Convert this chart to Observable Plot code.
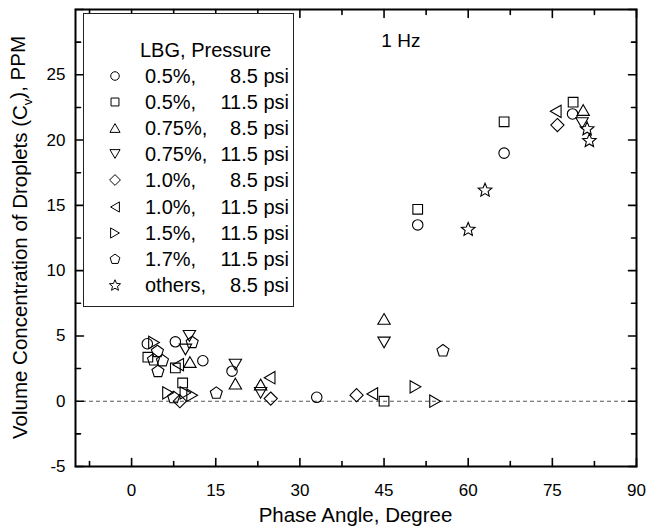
<!DOCTYPE html>
<html><head><meta charset="utf-8">
<script src="https://cdn.jsdelivr.net/npm/d3@7"></script>
<script src="https://cdn.jsdelivr.net/npm/@observablehq/plot@0.6"></script>
<style>
body{margin:0;background:#fff;}
#wrap{position:relative;width:646px;height:528px;font-family:Arial,"Liberation Sans",sans-serif;}
#legend{position:absolute;left:83px;top:13px;width:211px;height:294px;box-sizing:border-box;border:1px solid #222;background:#fff;}
.row{position:absolute;left:0;width:100%;height:26px;line-height:26px;font-size:20px;color:#000;white-space:nowrap;}
.row span{position:absolute;}
.row svg{position:absolute;top:5px;}
</style></head><body><div id="wrap"></div>
<script>
// ---------- data ----------
const xMajor = [0, 15, 30, 45, 60, 75, 90];
const xMinor = [-7.5, 7.5, 22.5, 37.5, 52.5, 67.5, 82.5];
const yMajor = [-5, 0, 5, 10, 15, 20, 25, 30];
const yMinor = [-2.5, 2.5, 7.5, 12.5, 17.5, 22.5, 27.5];
const yTickLabels = [-5, 0, 5, 10, 15, 20, 25];

const legendTitle = "LBG, Pressure";
const legendLBG = ["0.5%,", "0.5%,", "0.75%,", "0.75%,", "1.0%,", "1.0%,", "1.5%,", "1.7%,", "others,"];
const legendPressure = ["8.5 psi", "11.5 psi", "8.5 psi", "11.5 psi", "8.5 psi", "11.5 psi", "11.5 psi", "11.5 psi", "8.5 psi"];

// [phase angle (deg), Cv (PPM)]
const lbg05_85 = [[2.8,4.4],[7.8,4.55],[12.7,3.1],[17.9,2.3],[33,0.3],[51,13.5],[66.4,19.0],[78.6,22.0]];
const lbg05_115 = [[2.9,3.37],[7.8,2.55],[9.1,1.4],[45,0.0],[51,14.7],[66.4,21.4],[78.7,22.9]];
const lbg075_85 = [[10.4,3.0],[18.5,1.35],[23,1.28],[45,6.3],[80.5,22.3]];
const lbg075_115 = [[10.3,5.0],[9.6,3.96],[18.5,2.8],[23,0.64],[45,4.5],[80.3,21.3]];
const lbg10_85 = [[8.6,0.0],[24.8,0.2],[40.1,0.46],[75.9,21.15]];
const lbg10_115 = [[8.3,2.8],[24.6,1.8],[42.9,0.56],[75.6,22.2]];
const lbg15_115 = [[4.0,4.5],[6.5,0.64],[9.6,0.64],[10.8,0.46],[50.6,1.1],[54.1,0.0]];
const lbg17_115 = [[4.6,3.83],[3.9,3.19],[5.5,3.12],[4.7,2.3],[10.8,4.52],[7.5,0.3],[15.1,0.64],[55.5,3.88]];
const others_85 = [[60.0,13.2],[63.0,16.2],[81.2,20.9],[81.6,20.0]];

const hzLabel = [{label: "1 Hz", x: 48, y: 27.6}];

// ---------- symbols ----------
function poly(ctx, pts){ ctx.moveTo(pts[0][0], pts[0][1]); for (let i = 1; i < pts.length; i++) ctx.lineTo(pts[i][0], pts[i][1]); ctx.closePath(); }
function regular(n, R, rot, shift){ return d3.range(n).map(i => { const a = rot + 2*Math.PI*i/n; return [R*Math.sin(a) + shift[0], -R*Math.cos(a) + shift[1]]; }); }
const rad = size => Math.sqrt(size/Math.PI);
const symCircle = {draw(ctx, size){ const r = rad(size)*0.95; ctx.moveTo(r,0); ctx.arc(0,0,r,0,2*Math.PI); }};
const symSquare = {draw(ctx, size){ const s = rad(size)*0.88; ctx.rect(-s,-s,2*s,2*s); }};
const tri = rot => ({draw(ctx, size){ const R = rad(size)*1.3; const sh = [-(R/4)*Math.sin(rot), (R/4)*Math.cos(rot)]; poly(ctx, regular(3, R, rot, sh)); }});
const symTriUp = tri(0), symTriDown = tri(Math.PI), symTriLeft = tri(-Math.PI/2), symTriRight = tri(Math.PI/2);
const symDiamond = {draw(ctx, size){ const R = rad(size)*1.2; poly(ctx, [[0,-R],[R,0],[0,R],[-R,0]]); }};
const symPentagon = {draw(ctx, size){ const R = rad(size)*1.15; poly(ctx, regular(5, R, 0, [0, 0.05*R])); }};
const symStar = {draw(ctx, size){ const R = rad(size)*1.3, r = R*0.45; const pts = d3.range(10).map(i => { const a = Math.PI*i/5; const q = i % 2 ? r : R; return [q*Math.sin(a), -q*Math.cos(a) + 0.1*R]; }); poly(ctx, pts); }};

const seriesData = [lbg05_85, lbg05_115, lbg075_85, lbg075_115, lbg10_85, lbg10_115, lbg15_115, lbg17_115, others_85];
const seriesSymbols = [symCircle, symSquare, symTriUp, symTriDown, symDiamond, symTriLeft, symTriRight, symPentagon, symStar];

const tickShape = {draw(ctx, l){ ctx.moveTo(0,0); ctx.lineTo(0,-l); }};
const tickMarks = (vals, k, anchor, rot, len) => Plot.vector(vals, {[k]: d => d, frameAnchor: anchor, rotate: rot, length: len, anchor: "start", shape: tickShape, stroke: "black", strokeWidth: 1.6});

const W = 646, H = 528, ML = 75, MR = 10, MT = 9, MB = 62;

const plot = Plot.plot({
  width: W, height: H,
  marginLeft: ML, marginRight: MR, marginTop: MT, marginBottom: MB,
  style: {fontFamily: "Arial, 'Liberation Sans', sans-serif", background: "white", color: "black"},
  x: {domain: [-10, 90]},
  y: {domain: [-5, 30]},
  marks: [
    Plot.ruleY([0], {stroke: "#555", strokeDasharray: "4,3", strokeWidth: 1.1}),
    ...seriesData.map((d, i) => Plot.dot(d, {x: p => p[0], y: p => p[1], symbol: seriesSymbols[i], r: 5.5, stroke: "black", strokeWidth: 1.1, fill: "none"})),
    Plot.text(hzLabel, {x: "x", y: "y", text: "label", fontSize: 19, fill: "black"}),
    Plot.axisX(xMajor, {tickSize: 0, tickPadding: 17, fontSize: 17, label: null, tickFormat: d => String(d)}),
    Plot.axisY(yTickLabels, {tickSize: 0, tickPadding: 10, fontSize: 17, label: null, tickFormat: d => String(d)}),
    tickMarks(xMajor, "x", "bottom", 0, 8),
    tickMarks(xMinor, "x", "bottom", 0, 5),
    tickMarks(xMajor, "x", "top", 180, 8),
    tickMarks(xMinor, "x", "top", 180, 5),
    tickMarks(yMajor, "y", "left", 90, 8),
    tickMarks(yMinor, "y", "left", 90, 5),
    tickMarks(yMajor, "y", "right", -90, 8),
    tickMarks(yMinor, "y", "right", -90, 5),
    Plot.frame({stroke: "black", strokeWidth: 2})
  ]
});

const svg = d3.select(plot);
// x title
svg.append("text")
  .attr("x", (ML + W - MR)/2).attr("y", H - 6)
  .attr("text-anchor", "middle").attr("font-size", 20.5).attr("fill", "black")
  .text("Phase Angle, Degree");
// y title with subscript
const yt = svg.append("text")
  .attr("transform", `translate(20,${(MT + H - MB)/2}) rotate(-90)`)
  .attr("text-anchor", "middle").attr("dy", "0.35em").attr("font-size", 20.5).attr("fill", "black");
yt.append("tspan").text("Volume Concentration of Droplets (C");
yt.append("tspan").attr("font-size", 13).attr("dy", "0.35em").text("v");
yt.append("tspan").attr("dy", "-0.35em").text("), PPM");

const wrap = document.getElementById("wrap");
wrap.appendChild(plot);

// legend (inside plot frame)
const leg = d3.select(wrap).append("div").attr("id", "legend");
const head = leg.append("div").attr("class", "row").style("top", (36 - 13) + "px");
head.append("span").style("left", "56px").text(legendTitle);
legendLBG.forEach((lbg, i) => {
  const row = leg.append("div").attr("class", "row").style("top", (62 + 26.1*i - 13).toFixed(1) + "px");
  const s = row.append("svg").attr("width", 16).attr("height", 16).style("left", "23px");
  const p = d3.path(); seriesSymbols[i].draw(p, Math.PI*4.5*4.5);
  s.append("path").attr("d", p.toString()).attr("transform", "translate(8,8)")
    .attr("fill", "none").attr("stroke", "black").attr("stroke-width", 1);
  row.append("span").style("left", "61px").text(lbg);
  row.append("span").style("right", "4px").text(legendPressure[i]);
});
</script></body></html>
